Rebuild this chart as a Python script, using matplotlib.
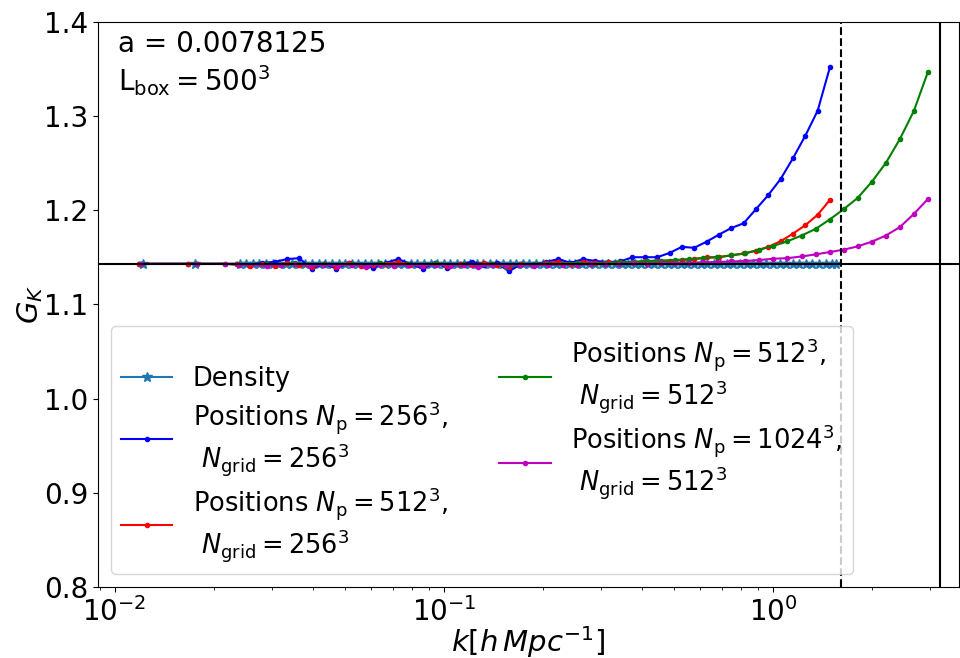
import matplotlib
matplotlib.use("Agg")
import matplotlib.pyplot as plt

# density estimator bins [h/Mpc]
density_k = [0.0122, 0.0176,
             0.0240, 0.0251, 0.0263, 0.0275, 0.0288, 0.0302, 0.0316, 0.0331, 0.0347, 0.0363,
             0.0380, 0.0398, 0.0417, 0.0437, 0.0457, 0.0479, 0.0501, 0.0525, 0.0550, 0.0575,
             0.0603, 0.0631, 0.0661, 0.0692, 0.0724, 0.0759, 0.0794, 0.0832, 0.0871, 0.0912,
             0.0955, 0.1000, 0.1047, 0.1096, 0.1148, 0.1202, 0.1259, 0.1318, 0.1380, 0.1445,
             0.1514, 0.1585, 0.1660, 0.1738, 0.1820, 0.1905, 0.1995, 0.2089, 0.2188, 0.2291,
             0.2399, 0.2512, 0.2630, 0.2754, 0.2884, 0.3020, 0.3162, 0.3311, 0.3467, 0.3631,
             0.3802, 0.3981, 0.4169, 0.4365, 0.4571, 0.4786, 0.5012, 0.5248, 0.5495, 0.5754,
             0.6026, 0.6310, 0.6607, 0.6918, 0.7244, 0.7586, 0.7943, 0.8318, 0.8710, 0.9120,
             0.9550, 1.000, 1.047, 1.096, 1.148, 1.202, 1.259, 1.318, 1.380, 1.445,
             1.514, 1.550]
density_g = [1.1429] * len(density_k)

# bins for the 256^3 grid
k_grid256 = [0.01184, 0.01672, 0.02362, 0.02575, 0.02808, 0.03061, 0.03337, 0.03638, 0.03966,
             0.04324, 0.04714, 0.05139, 0.05603, 0.06108, 0.06659, 0.07260, 0.07914, 0.08628,
             0.09405, 0.1025, 0.1118, 0.1218, 0.1328, 0.1448, 0.1578, 0.1721, 0.1876, 0.2045,
             0.2229, 0.2430, 0.2649, 0.2888, 0.3149, 0.3433, 0.3743, 0.4081, 0.4449, 0.4850,
             0.5288, 0.5765, 0.6285, 0.6852, 0.7470, 0.8144, 0.8878, 0.9678, 1.055, 1.150,
             1.254, 1.367, 1.490]
g_np256_ng256 = [1.143, 1.143, 1.143, 1.142, 1.144, 1.145, 1.148, 1.149, 1.138,
                 1.143, 1.138, 1.144, 1.142, 1.139, 1.144, 1.148, 1.143, 1.138,
                 1.144, 1.139, 1.143, 1.145, 1.142, 1.144, 1.135, 1.143, 1.142, 1.145,
                 1.148, 1.144, 1.148, 1.146, 1.145, 1.1455, 1.150, 1.150, 1.150, 1.1545,
                 1.161, 1.160, 1.1665, 1.174, 1.181, 1.186, 1.201, 1.216, 1.233, 1.255,
                 1.279, 1.3055, 1.352]
g_np512_ng256 = [1.143, 1.143, 1.143, 1.141, 1.143, 1.141, 1.144, 1.142, 1.140,
                 1.143, 1.140, 1.144, 1.141, 1.142, 1.143, 1.145, 1.142, 1.141,
                 1.143, 1.141, 1.143, 1.142, 1.144, 1.142, 1.140, 1.143, 1.142, 1.144,
                 1.145, 1.143, 1.145, 1.144, 1.1445, 1.1445, 1.145, 1.1455, 1.146, 1.146,
                 1.147, 1.148, 1.150, 1.150, 1.152, 1.154, 1.157, 1.161, 1.167, 1.175,
                 1.184, 1.195, 1.211]

# bins for the 512^3 grid
k_grid512 = [0.01202, 0.01781, 0.02168, 0.02392, 0.02911, 0.03212, 0.03544, 0.03911, 0.04315,
             0.04761, 0.05253, 0.05794, 0.06393, 0.07054, 0.07783, 0.08587, 0.09474, 0.1045,
             0.1153, 0.1272, 0.1404, 0.1549, 0.1709, 0.1885, 0.2080, 0.2295, 0.2532, 0.2794,
             0.3083, 0.3401, 0.3752, 0.4140, 0.4568, 0.5040, 0.5561, 0.6135, 0.6769, 0.7469,
             0.8240, 0.9091, 1.003, 1.107, 1.221, 1.347, 1.486, 1.640, 1.809, 1.996,
             2.202, 2.430, 2.681, 2.958]
g_np512_ng512 = [1.143, 1.143, 1.143, 1.142, 1.143, 1.142, 1.144, 1.141, 1.143,
                 1.142, 1.143, 1.141, 1.144, 1.142, 1.143, 1.142, 1.144, 1.142,
                 1.143, 1.141, 1.143, 1.140, 1.142, 1.143, 1.143, 1.143, 1.144, 1.143,
                 1.144, 1.1445, 1.145, 1.146, 1.1465, 1.147, 1.148, 1.149, 1.150, 1.152,
                 1.154, 1.158, 1.162, 1.167, 1.173, 1.180, 1.190, 1.201, 1.213, 1.230,
                 1.250, 1.2755, 1.3055, 1.347]
g_np1024_ng512 = [1.143, 1.143, 1.143, 1.142, 1.141, 1.142, 1.143, 1.141, 1.142,
                  1.141, 1.142, 1.140, 1.142, 1.141, 1.142, 1.141, 1.142, 1.141,
                  1.142, 1.140, 1.142, 1.141, 1.142, 1.141, 1.142, 1.142, 1.142, 1.1425,
                  1.143, 1.143, 1.1435, 1.143, 1.1435, 1.144, 1.144, 1.1445, 1.145, 1.1455,
                  1.146, 1.147, 1.1484, 1.149, 1.1508, 1.153, 1.1555, 1.158, 1.1615, 1.1665,
                  1.173, 1.182, 1.196, 1.212]

g_expected = 1.1429
k_nyq_256 = 1.6085
k_nyq_512 = 3.217

fig = plt.figure(figsize=(9.6, 6.58), dpi=100)
ax = fig.add_axes([0.102, 0.108, 0.897, 0.859])

ax.plot(density_k, density_g, '*-', color='C0', ms=7, label='Density')
ax.plot(k_grid256, g_np256_ng256, 'b.-',
        label='Positions $N_\\mathrm{p} = 256^3$,\n $N_\\mathrm{grid} = 256^3$')
ax.plot(k_grid256, g_np512_ng256, 'r.-',
        label='Positions $N_\\mathrm{p} = 512^3$,\n $N_\\mathrm{grid} = 256^3$')
ax.plot(k_grid512, g_np512_ng512, 'g.-',
        label='Positions $N_\\mathrm{p} = 512^3$,\n $N_\\mathrm{grid} = 512^3$')
ax.plot(k_grid512, g_np1024_ng512, 'm.-',
        label='Positions $N_\\mathrm{p} = 1024^3$,\n $N_\\mathrm{grid} = 512^3$')

ax.axhline(g_expected, color='k', lw=1.5)
ax.axvline(k_nyq_256, color='k', ls='--', lw=1.5)
ax.axvline(k_nyq_512, color='k', lw=1.5)

ax.set_xscale('log')
ax.set_xlim(0.0089, 3.675)
ax.set_ylim(0.8, 1.4)
ax.set_xlabel(r'$k[h\,Mpc^{-1}]$', fontsize=21, labelpad=-2)
ax.set_ylabel(r'$G_K$', fontsize=21, labelpad=-1)
ax.tick_params(labelsize=20)

ax.text(0.023, 0.985, 'a = 0.0078125\n$\\mathrm{L_{box}} = 500^3$',
        transform=ax.transAxes, va='top', ha='left', fontsize=20)

ax.legend(loc='lower left', ncol=2, fontsize=18.5, labelspacing=0.28)

fig.savefig('out.png')
